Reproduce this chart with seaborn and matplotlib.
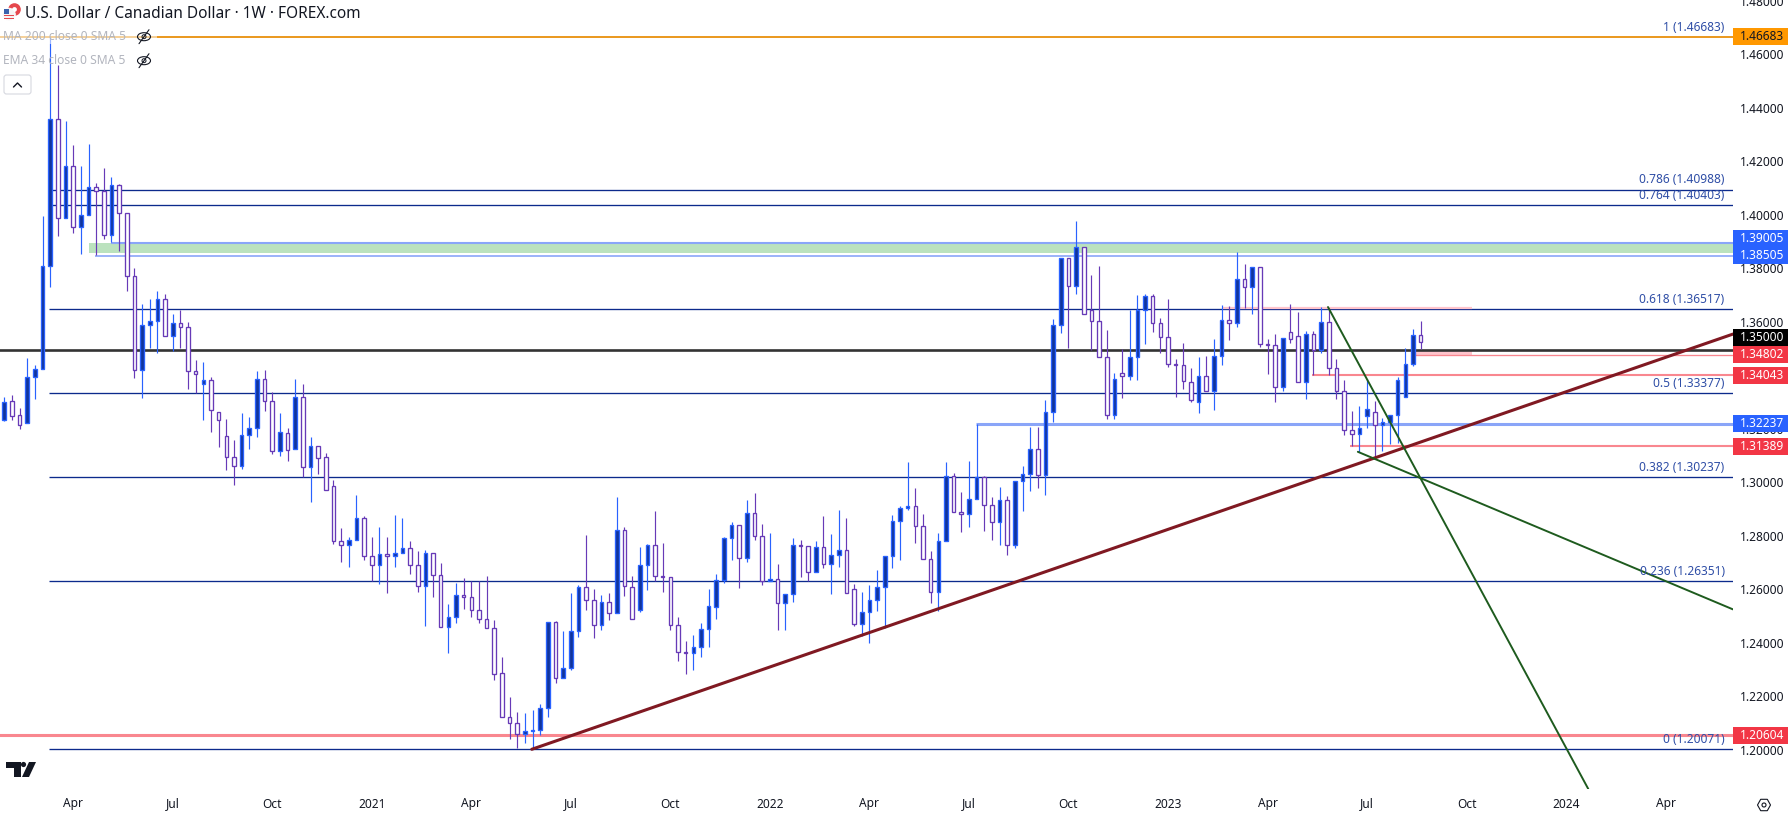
import pandas as pd
import matplotlib
matplotlib.use('Agg')
import matplotlib.pyplot as plt
from matplotlib.patches import Rectangle, Circle, Ellipse, Polygon, FancyBboxPatch
from matplotlib.lines import Line2D
from matplotlib.transforms import Affine2D
import seaborn as sns

# weekly candles, first one is the week of 2020-02-03
open_ = [
    1.3238,1.3308,1.3255,1.3225,1.3397,1.3427,1.3812,1.4362,1.3992,1.4186,
    1.3958,1.4003,1.4107,1.4092,1.3928,1.4115,1.4010,1.3775,1.3423,1.3592,
    1.3607,1.3689,1.3550,1.3599,1.3584,1.3420,1.3373,1.3386,1.3267,1.3177,
    1.3098,1.3065,1.3181,1.3207,1.3390,1.3308,1.3121,1.3188,1.3128,1.3323,
    1.3061,1.3139,1.3098,1.2990,1.2784,1.2772,1.2788,1.2870,1.2728,1.2695,
    1.2736,1.2731,1.2739,1.2758,1.2695,1.2616,1.2739,1.2657,1.2463,1.2500,
    1.2582,1.2575,1.2526,1.2493,1.2459,1.2291,1.2127,1.2104,1.2063,1.2074,
    1.2078,1.2160,1.2482,1.2272,1.2310,1.2448,1.2612,1.2564,1.2470,1.2556,
    1.2515,1.2825,1.2615,1.2526,1.2695,1.2769,1.2653,1.2650,1.2470,1.2369,
    1.2366,1.2388,1.2455,1.2540,1.2640,1.2796,1.2844,1.2723,1.2889,1.2806,
    1.2637,1.2642,1.2553,1.2586,1.2769,1.2766,1.2668,1.2762,1.2698,1.2732,
    1.2751,1.2605,1.2474,1.2519,1.2564,1.2612,1.2728,1.2859,1.2908,1.2915,
    1.2840,1.2717,1.2594,1.2784,1.3027,1.2893,1.2885,1.2941,1.3023,1.2919,
    1.2855,1.2938,1.2771,1.3009,1.3035,1.3128,1.3031,1.3267,1.3592,1.3842,
    1.3737,1.3883,1.3648,1.3607,1.3472,1.3255,1.3412,1.3401,1.3472,1.3648,
    1.3700,1.3599,1.3547,1.3446,1.3442,1.3379,1.3304,1.3401,1.3345,1.3476,
    1.3610,1.3599,1.3764,1.3734,1.3808,1.3521,1.3517,1.3362,1.3565,1.3551,
    1.3379,1.3558,1.3498,1.3603,1.3431,1.3345,1.3199,1.3184,1.3251,1.3266,
    1.3218,1.3229,1.3255,1.3323,1.3446,1.3554]
high = [
    1.3325,1.3331,1.3282,1.3470,1.3443,1.4000,1.4668,1.4565,1.4355,1.4266,
    1.4187,1.4269,1.4124,1.4180,1.4146,1.4119,1.4010,1.3806,1.3671,1.3690,
    1.3720,1.3709,1.3634,1.3649,1.3604,1.3462,1.3454,1.3397,1.3267,1.3242,
    1.3163,1.3263,1.3249,1.3420,1.3423,1.3341,1.3264,1.3208,1.3391,1.3372,
    1.3174,1.3139,1.3113,1.3014,1.2834,1.2799,1.2957,1.2879,1.2801,1.2838,
    1.2801,1.2883,1.2872,1.2784,1.2747,1.2751,1.2739,1.2702,1.2550,1.2627,
    1.2646,1.2635,1.2635,1.2655,1.2490,1.2352,1.2203,1.2145,1.2141,1.2154,
    1.2175,1.2482,1.2487,1.2449,1.2591,1.2621,1.2808,1.2606,1.2584,1.2591,
    1.2950,1.2837,1.2655,1.2763,1.2774,1.2896,1.2778,1.2652,1.2502,1.2412,
    1.2434,1.2478,1.2606,1.2662,1.2802,1.2857,1.2844,1.2939,1.2965,1.2849,
    1.2815,1.2700,1.2586,1.2797,1.2789,1.2766,1.2784,1.2879,1.2812,1.2901,
    1.2872,1.2625,1.2594,1.2621,1.2677,1.2728,1.2883,1.2916,1.3081,1.2984,
    1.2887,1.2748,1.2814,1.3081,1.3040,1.2969,1.3085,1.3224,1.3027,1.2950,
    1.2987,1.2953,1.3009,1.3066,1.3212,1.3212,1.3313,1.3614,1.3842,1.3842,
    1.3980,1.3883,1.3780,1.3813,1.3574,1.3413,1.3502,1.3649,1.3705,1.3709,
    1.3709,1.3619,1.3690,1.3466,1.3526,1.3432,1.3473,1.3477,1.3541,1.3668,
    1.3664,1.3866,1.3821,1.3808,1.3808,1.3541,1.3559,1.3543,1.3671,1.3641,
    1.3570,1.3570,1.3660,1.3655,1.3465,1.3387,1.3271,1.3290,1.3391,1.3308,
    1.3245,1.3255,1.3397,1.3506,1.3577,1.3607]
low = [
    1.3234,1.3238,1.3204,1.3225,1.3316,1.3427,1.3736,1.3927,1.3992,1.3938,
    1.3859,1.4003,1.3854,1.3915,1.3904,1.3871,1.3721,1.3396,1.3321,1.3506,
    1.3489,1.3550,1.3497,1.3506,1.3355,1.3337,1.3238,1.3194,1.3138,1.3051,
    1.2996,1.3053,1.3131,1.3176,1.3272,1.3111,1.3105,1.3086,1.3128,1.3024,
    1.2933,1.3037,1.2975,1.2776,1.2708,1.2690,1.2788,1.2716,1.2635,1.2626,
    1.2592,1.2690,1.2739,1.2663,1.2596,1.2469,1.2578,1.2463,1.2368,1.2478,
    1.2530,1.2503,1.2480,1.2459,1.2266,1.2127,1.2047,1.2013,1.2032,1.2007,
    1.2059,1.2129,1.2256,1.2272,1.2305,1.2428,1.2528,1.2423,1.2453,1.2490,
    1.2515,1.2581,1.2493,1.2521,1.2604,1.2636,1.2596,1.2453,1.2337,1.2289,
    1.2303,1.2352,1.2389,1.2495,1.2630,1.2715,1.2611,1.2708,1.2789,1.2621,
    1.2637,1.2453,1.2453,1.2559,1.2652,1.2635,1.2668,1.2685,1.2589,1.2690,
    1.2590,1.2469,1.2432,1.2406,1.2525,1.2459,1.2686,1.2714,1.2903,1.2779,
    1.2717,1.2555,1.2523,1.2784,1.2893,1.2820,1.2838,1.2941,1.2824,1.2789,
    1.2771,1.2733,1.2760,1.2899,1.2974,1.2985,1.2959,1.3229,1.3563,1.3506,
    1.3709,1.3633,1.3499,1.3472,1.3240,1.3240,1.3320,1.3387,1.3387,1.3522,
    1.3567,1.3490,1.3437,1.3325,1.3354,1.3305,1.3265,1.3345,1.3275,1.3443,
    1.3537,1.3585,1.3655,1.3634,1.3511,1.3410,1.3305,1.3346,1.3526,1.3379,
    1.3318,1.3406,1.3489,1.3406,1.3318,1.3183,1.3142,1.3119,1.3207,1.3098,
    1.3122,1.3149,1.3153,1.3323,1.3440,1.3502]
close = [
    1.3304,1.3252,1.3218,1.3397,1.3427,1.3812,1.4362,1.3992,1.4186,1.3958,
    1.4003,1.4107,1.4092,1.3928,1.4115,1.4010,1.3775,1.3423,1.3592,1.3607,
    1.3689,1.3550,1.3599,1.3584,1.3420,1.3411,1.3386,1.3274,1.3237,1.3098,
    1.3065,1.3181,1.3207,1.3390,1.3308,1.3121,1.3192,1.3125,1.3323,1.3061,
    1.3139,1.3095,1.2975,1.2784,1.2772,1.2788,1.2870,1.2728,1.2695,1.2736,
    1.2731,1.2739,1.2758,1.2695,1.2616,1.2739,1.2657,1.2463,1.2500,1.2582,
    1.2575,1.2526,1.2493,1.2459,1.2287,1.2127,1.2104,1.2063,1.2074,1.2078,
    1.2160,1.2482,1.2272,1.2310,1.2448,1.2612,1.2564,1.2470,1.2556,1.2515,
    1.2825,1.2616,1.2493,1.2695,1.2769,1.2653,1.2650,1.2470,1.2369,1.2366,
    1.2388,1.2455,1.2541,1.2640,1.2796,1.2844,1.2723,1.2889,1.2806,1.2637,
    1.2642,1.2553,1.2586,1.2769,1.2766,1.2668,1.2762,1.2698,1.2732,1.2751,
    1.2590,1.2474,1.2519,1.2564,1.2612,1.2728,1.2859,1.2908,1.2915,1.2840,
    1.2717,1.2594,1.2784,1.3027,1.2893,1.2885,1.2941,1.3023,1.2919,1.2855,
    1.2938,1.2771,1.3009,1.3035,1.3128,1.3031,1.3267,1.3592,1.3842,1.3737,
    1.3883,1.3633,1.3607,1.3472,1.3255,1.3390,1.3401,1.3472,1.3648,1.3700,
    1.3599,1.3547,1.3446,1.3442,1.3382,1.3311,1.3401,1.3345,1.3476,1.3610,
    1.3599,1.3764,1.3734,1.3808,1.3521,1.3517,1.3362,1.3543,1.3539,1.3379,
    1.3558,1.3498,1.3603,1.3431,1.3345,1.3199,1.3184,1.3207,1.3278,1.3218,
    1.3229,1.3255,1.3386,1.3446,1.3554,1.3528]

# fibonacci retracement
fib_ratios = ['0.786', '0.764', '0.618', '0.5', '0.382', '0.236', '0']
fib_prices = [1.40988, 1.40403, 1.36517, 1.33377, 1.30237, 1.26351, 1.20071]
fib_top = 1.46683
fib_start = 5.9

# price axis and time axis (1.34 sits fully behind its badge in the reference)
price_ticks = [1.48, 1.46, 1.44, 1.42, 1.40, 1.38, 1.36, 1.32, 1.30,
               1.28, 1.26, 1.24, 1.22, 1.20]
time_weeks = [9, 22, 35, 48, 61, 74, 87, 100, 113, 126, 139, 152, 165, 178, 191, 204, 217]
time_labels = ['Apr', 'Jul', 'Oct', '2021', 'Apr', 'Jul', 'Oct', '2022', 'Apr', 'Jul',
               'Oct', '2023', 'Apr', 'Jul', 'Oct', '2024', 'Apr']

# trendlines: week, price
support_weeks, support_prices = [68.9, 225.8], [1.20071, 1.3559]
steep_weeks, steep_prices = [172.9, 206.9], [1.3660, 1.18587]
flat_weeks, flat_prices = [176.8, 225.8], [1.3119, 1.2530]

# price badges: label, pixel centre, fill
badge_names = ['1.46683', '1.39005', '1.38505', '1.35000', '1.34802', '1.34043', '1.32237', '1.31389', '1.20604']
badge_y = [36.7, 238.7, 255.7, 337.4, 354.4, 375.3, 423.7, 446.7, 735.7]
badge_fill = ['#ff9800', '#2962ff', '#2962ff', '#000000', '#f23645', '#f23645', '#2962ff', '#f23645', '#f23645']

UP_WICK = '#2962ff'
UP_BODY = '#10349c'
DOWN_WICK = '#673ab7'
NAVY = '#0c2a8c'
BLUE_LEVEL = '#8aa5f8'
RED_LEVEL = '#f9878f'
PINK = '#ffc4cc'
GREEN = '#1e5b1e'
MAROON = '#801922'
FONT = 'Noto Sans'
LABEL_SIZE = 8.6
W, H = 1790, 816
PLOT_W, PLOT_H = 1733, 789

sns.set_theme(style='white')
plt.rcParams['font.family'] = FONT

df = pd.DataFrame({'open': open_, 'high': high, 'low': low, 'close': close})
df['week'] = df.index
df['side'] = ['up' if c >= o else 'down' for o, c in zip(df['open'], df['close'])]
wicks = df.melt(id_vars=['week', 'side'], value_vars=['high', 'low'], value_name='price')

fig = plt.figure(figsize=(W / 100, H / 100), dpi=100, facecolor='white')
ax = fig.add_axes([0, 1 - PLOT_H / H, PLOT_W / W, PLOT_H / H])
ax.set_facecolor('white')

# pixel transform for the chrome around the chart
px = Affine2D().scale(1 / W, -1 / H).translate(0, 1) + fig.transFigure


# horizontal level drawn from a start week up to the price axis
def level(price, start, color, lw, end=None, zorder=1):
    right = 226 if end is None else end
    ax.plot([start, right], [price, price], color=color, lw=lw, solid_capstyle='butt', zorder=zorder)


# levels
for p in fib_prices:
    level(p, fib_start, NAVY, 0.95)
level(fib_top, -1, '#e8900c', 1.3)
level(1.35, -1, '#333333', 1.9)
ax.add_patch(Rectangle((11.06, 1.3862), 215, 0.0037, color='#bbe2be', lw=0, zorder=0.5))
level(1.39005, 13.9, BLUE_LEVEL, 1.5)
level(1.38505, 11.85, BLUE_LEVEL, 1.2)
level(1.32237, 126.9, BLUE_LEVEL, 2.2)
level(1.3658, 159.1, PINK, 1.6, end=191.7)
ax.add_patch(Rectangle((184.3, 1.34802), 7.4, 0.00198, color=PINK, lw=0, zorder=0.5))
level(1.34802, 184.3, RED_LEVEL, 0.95)
level(1.34043, 170.8, RED_LEVEL, 1.5)
level(1.31389, 175.8, RED_LEVEL, 1.5)
level(1.20604, -1, RED_LEVEL, 2.2)

# candles
sns.lineplot(data=wicks, x='week', y='price', units='week', hue='side', estimator=None,
             palette={'up': UP_WICK, 'down': DOWN_WICK}, legend=False, lw=0.85,
             solid_capstyle='butt', zorder=3, ax=ax)
for side, face, edge in [('up', UP_BODY, UP_WICK), ('down', 'white', DOWN_WICK)]:
    part = df[df['side'] == side]
    bottoms = part[['open', 'close']].min(axis=1)
    heights = part[['open', 'close']].max(axis=1) - bottoms
    ax.bar(part['week'], heights, bottom=bottoms, width=0.47, facecolor=face, edgecolor=edge,
           linewidth=0.95, zorder=3.1)

# trendlines
for xs, ys, color, lw in [(support_weeks, support_prices, MAROON, 2.2),
                          (steep_weeks, steep_prices, GREEN, 1.4),
                          (flat_weeks, flat_prices, GREEN, 1.4)]:
    sns.lineplot(x=xs, y=ys, color=color, lw=lw, estimator=None, sort=False, zorder=4, ax=ax)

ax.set_xlim(-0.56, 225.8)
ax.set_ylim(1.18587, 1.48076)
ax.set_xlabel('')
ax.set_ylabel('')
ax.set_xticks(time_weeks)
ax.set_xticklabels([])
ax.set_yticks(price_ticks)
ax.set_yticklabels([])
ax.tick_params(length=0)
ax.grid(False)
for spine in ax.spines.values():
    spine.set_visible(False)

# time axis labels
for w, lab in zip(time_weeks, time_labels):
    is_year = lab.isdigit()
    ax.annotate(lab, xy=(w, 0), xycoords=ax.get_xaxis_transform(), xytext=(0, -15 * 0.72),
                textcoords='offset points', ha='center', va='center', fontsize=LABEL_SIZE,
                color='#131722', fontweight='medium' if is_year else 'normal', annotation_clip=False)

# price axis labels
for p in price_ticks:
    ax.annotate(f'{p:.5f}', xy=(1, p), xycoords=ax.get_yaxis_transform(), xytext=(29 * 0.72, 0),
                textcoords='offset points', ha='center', va='center', fontsize=LABEL_SIZE, color='#131722',
                annotation_clip=False, zorder=5)

# fib labels sit above their line
fib_rows = [('1', fib_top)] + list(zip(fib_ratios, fib_prices))
for ratio, p in fib_rows:
    ax.annotate(f'{ratio} ({p:.5f})', xy=(1, p), xycoords=ax.get_yaxis_transform(),
                xytext=(-8.3 * 0.72, 10 * 0.72), textcoords='offset points', ha='right', va='center',
                fontsize=LABEL_SIZE, color='#2f4ea6', zorder=5)

# badges
for name, y, fill in zip(badge_names, badge_y, badge_fill):
    fig.add_artist(Rectangle((PLOT_W, y - 8.4), 55.5, 16.8, transform=px, facecolor=fill, edgecolor='none', zorder=6))
    text_color = '#131722' if fill == '#ff9800' else 'white'
    fig.text(1762, y, name, transform=px, ha='center', va='center', fontsize=LABEL_SIZE,
             color=text_color, zorder=7, fontweight='normal' if fill == '#ff9800' else 'medium')

# header
fig.add_artist(Circle((14.5, 9.5), 6.3, transform=px, facecolor='#e5484d', edgecolor='none', zorder=6))
fig.add_artist(Circle((14.5, 9.5), 2.4, transform=px, facecolor='white', edgecolor='none', zorder=6))
fig.add_artist(Circle((9, 14.5), 6.3, transform=px, facecolor='#f4f4f4', edgecolor='white', lw=0.6, zorder=6))
fig.add_artist(Rectangle((4, 9), 5, 5, transform=px, facecolor='#3b62ad', edgecolor='none', zorder=7))
for y in [15, 18]:
    fig.add_artist(Rectangle((4, y), 10, 1.2, transform=px, facecolor='#e5484d', edgecolor='none', zorder=7))
fig.text(25.5, 14, 'U.S. Dollar / Canadian Dollar · 1W · FOREX.com', transform=px, ha='left', va='center',
         fontsize=11.1, color='#131722', zorder=7)

# faded indicator rows on top of the orange line
fig.add_artist(Rectangle((0, 28), 157, 16, transform=px, facecolor='white', alpha=0.55, edgecolor='none', zorder=5))
for y, name in [(36.7, 'MA 200 close 0 SMA 5'), (60.7, 'EMA 34 close 0 SMA 5')]:
    fig.text(3, y, name, transform=px, ha='left', va='center', fontsize=8.7, color='#b2b5be', zorder=7)
    fig.add_artist(Ellipse((144, y), 13, 8, transform=px, facecolor='none', edgecolor='#131722', lw=0.8, zorder=7))
    fig.add_artist(Circle((144, y), 2, transform=px, facecolor='none', edgecolor='#131722', lw=0.7, zorder=7))
    fig.add_artist(Line2D([139, 149], [y + 7, y - 7], transform=px, color='#131722', lw=0.8, zorder=7))

# collapse button
fig.add_artist(FancyBboxPatch((4, 75), 27, 19, boxstyle='round,pad=0,rounding_size=2.5', transform=px,
                              facecolor='white', edgecolor='#d6d8df', lw=0.8, zorder=7))
fig.add_artist(Line2D([13.5, 17.5, 21.5], [87, 83, 87], transform=px, color='#131722', lw=1.0, zorder=8))

# tradingview logo
logo = '#131722'
fig.add_artist(Polygon([(6, 762), (21, 762), (21, 777), (14, 777), (14, 768), (6, 768)], closed=True, transform=px,
                       facecolor=logo, edgecolor='none', zorder=7))
fig.add_artist(Circle((23.5, 764.5), 2.6, transform=px, facecolor=logo, edgecolor='none', zorder=7))
fig.add_artist(Polygon([(29, 762), (36, 762), (29, 777), (22, 777)], closed=True, transform=px,
                       facecolor=logo, edgecolor='none', zorder=7))

# settings icon, bottom right
fig.add_artist(Polygon([(1757.5, 805), (1760.7, 799.3), (1767.3, 799.3), (1770.5, 805), (1767.3, 810.7), (1760.7, 810.7)],
                       closed=True, transform=px, facecolor='none', edgecolor='#131722', lw=0.8, zorder=7))
fig.add_artist(Circle((1764, 805), 2, transform=px, facecolor='none', edgecolor='#131722', lw=0.8, zorder=7))

fig.savefig('out.png', dpi=100, facecolor='white')
